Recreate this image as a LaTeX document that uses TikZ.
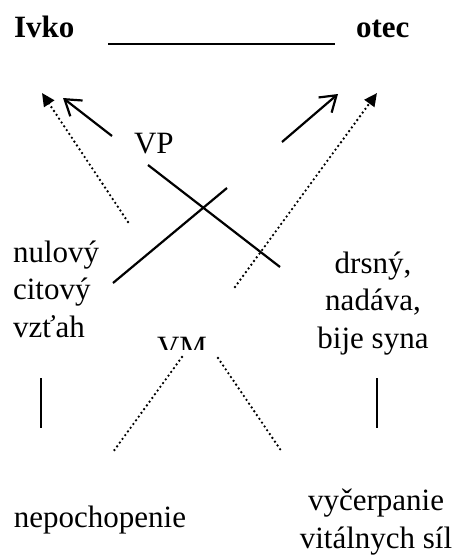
\documentclass[tikz,border=0pt]{standalone}
\usepackage{fontspec}
\setmainfont{Liberation Serif}
\usetikzlibrary{arrows.meta}
\begin{document}
\begin{tikzpicture}[x=1pt,y=-1pt,
  lbl/.style={inner sep=0pt, outer sep=0pt, font=\fontsize{31}{37.5}\selectfont},
  hd/.style={lbl, font=\fontsize{31}{37.5}\selectfont\bfseries},
  solidline/.style={line width=2.2pt},
  dotline/.style={line width=2.6pt, line cap=round, dash pattern=on 0pt off 4.6pt},
  openarrow/.style={solidline, -{Straight Barb[length=15pt,width=20pt,line width=2.2pt]}},
  filledarrow/.style={dotline, -{Triangle[length=13pt,width=12pt]}}]
\useasboundingbox (0,0) rectangle (458,557);

% title row
\node[hd, anchor=base west] (ivko) at (14,37) {Ivko};
\node[hd, anchor=base west] (otec) at (356,37) {otec};
\coordinate (topL) at (108,44);
\coordinate (topR) at (335,44);
\draw[solidline] (topL) -- (topR);

% labels (multi-line blocks are placed by the baseline of their last line)
\node[lbl, anchor=base west] (vp) at (134,153) {VP};
\begin{scope}
  \clip (140,320) rectangle (230,349);
  \node[lbl, anchor=base west] (vm) at (157,357) {VM};
\end{scope}
\node[lbl, anchor=base west, align=left] (ivkotr) at (13,337) {nulový\\citový\\vzťah};
\node[lbl, anchor=base, align=center] (otectr) at (373,348) {drsný,\\nadáva,\\bije syna};
\node[lbl, anchor=base] (nep) at (100,527) {nepochopenie};
\node[lbl, anchor=base, align=center] (vyc) at (376,548) {vyčerpanie\\vitálnych síl};

% end points of the connectors
\coordinate (dlA) at (128,222);  \coordinate (dlB) at (42,93);
\coordinate (slA) at (112,136);  \coordinate (slB) at (63,98);
\coordinate (srA) at (282,142);  \coordinate (srB) at (338,94);
\coordinate (drA) at (235,287);  \coordinate (drB) at (377,93);
\coordinate (xA) at (148,165);   \coordinate (xB) at (280,267);
\coordinate (yA) at (113,283);   \coordinate (yB) at (227,188);
\coordinate (vlA) at (41,378);   \coordinate (vlB) at (41,428);
\coordinate (vrA) at (377,378);  \coordinate (vrB) at (377,428);
\coordinate (mlA) at (182,357);  \coordinate (mlB) at (113,452);
\coordinate (mrA) at (218,358);  \coordinate (mrB) at (282,452);

% VP arrows
\draw[filledarrow] (dlA) -- (dlB);
\draw[openarrow] (slA) -- (slB);
\draw[openarrow] (srA) -- (srB);
\draw[filledarrow] (drA) -- (drB);

% crossing lines
\draw[solidline] (xA) -- (xB);
\draw[solidline] (yA) -- (yB);

% vertical strokes
\draw[solidline] (vlA) -- (vlB);
\draw[solidline] (vrA) -- (vrB);

% VM branches
\draw[dotline] (mlA) -- (mlB);
\draw[dotline] (mrA) -- (mrB);
\end{tikzpicture}
\end{document}
